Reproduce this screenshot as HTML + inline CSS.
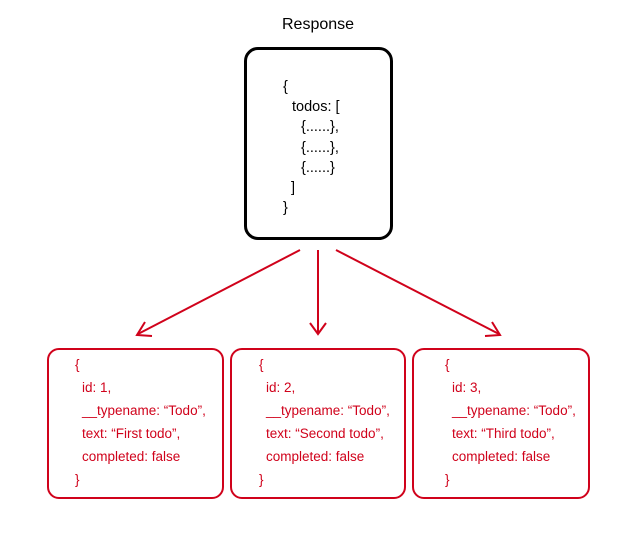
<!DOCTYPE html>
<html><head><style>
body{margin:0;width:638px;height:533px;background:#fff;font-family:"Liberation Sans","NanumGothic",sans-serif;position:relative;overflow:hidden}
.t{position:absolute;white-space:pre;font-size:14px}
.box{position:absolute;border:2px solid #d0021b;border-radius:12px;box-sizing:border-box}
.r{color:#d0021b;font-size:13.5px;line-height:23px}
.r div{padding-left:7px}
.r div.b{padding-left:0}
.k div{line-height:20.2px}
</style></head><body>
<div class="t" style="left:282px;top:16px;font-size:16px;">Response</div>
<div style="position:absolute;left:244px;top:47px;width:149px;height:193px;border:3px solid #000;border-radius:14px;box-sizing:border-box"></div>
<div class="t k" style="left:283px;top:77px;font-size:14.5px"><div>{</div><div style="padding-left:9px">todos: [</div><div style="padding-left:18px">{......},</div><div style="padding-left:18px">{......},</div><div style="padding-left:18px">{......}</div><div style="padding-left:8px">]</div><div>}</div></div>
<svg width="638" height="533" style="position:absolute;left:0;top:0">
<g stroke="#d0021b" stroke-width="2" fill="none">
<line x1="300" y1="250" x2="138" y2="334"/>
<polyline points="145,322 137,335 152,336"/>
<line x1="318" y1="250" x2="318" y2="333"/>
<polyline points="310,323 318,334 326,323"/>
<line x1="336" y1="250" x2="499" y2="334"/>
<polyline points="485,336 500,335 492,322"/>
</g></svg>
<div class="box" style="left:47px;top:348px;width:177px;height:151px"></div>
<div class="box" style="left:230px;top:348px;width:176px;height:151px"></div>
<div class="box" style="left:412px;top:348px;width:178px;height:151px"></div>
<div class="t r" style="left:75px;top:353px"><div class="b">{</div><div>id: 1,</div><div>__typename: “Todo”,</div><div>text: “First todo”,</div><div>completed: false</div><div class="b">}</div></div>
<div class="t r" style="left:259px;top:353px"><div class="b">{</div><div>id: 2,</div><div>__typename: “Todo”,</div><div>text: “Second todo”,</div><div>completed: false</div><div class="b">}</div></div>
<div class="t r" style="left:445px;top:353px"><div class="b">{</div><div>id: 3,</div><div>__typename: “Todo”,</div><div>text: “Third todo”,</div><div>completed: false</div><div class="b">}</div></div>
</body></html>
